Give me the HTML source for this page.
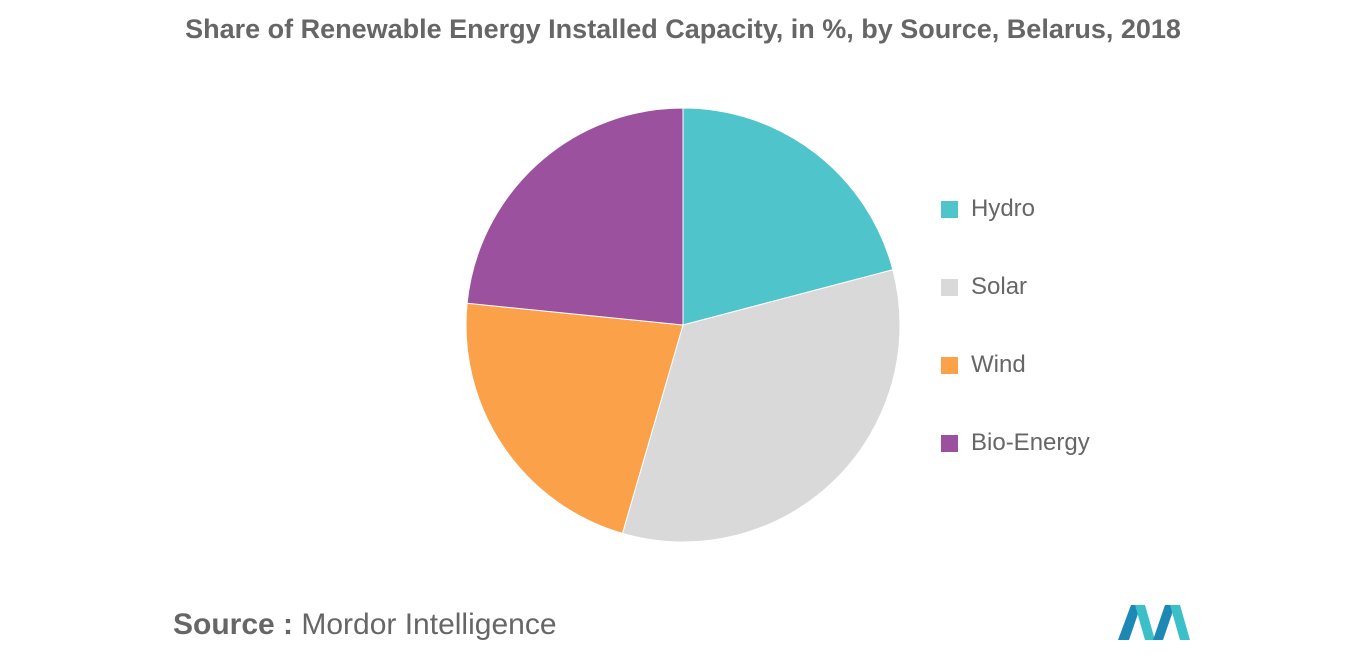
<!DOCTYPE html>
<html><head><meta charset="utf-8">
<style>
body{margin:0;width:1366px;height:655px;background:#fff;font-family:"Liberation Sans",sans-serif;overflow:hidden}
#title{position:absolute;left:0;width:1366px;top:14px;text-align:center;font-size:27px;font-weight:bold;color:#666}
.leg{position:absolute;left:941px;font-size:24px;color:#666;display:flex;align-items:center}
.leg span.sw{width:17px;height:17px;margin-right:13px;display:inline-block}
#source{position:absolute;left:173px;top:608px;font-size:30px;color:#666}
</style></head><body>
<div id="title">Share of Renewable Energy Installed Capacity, in %, by Source, Belarus, 2018</div>
<svg id="pie" width="1366" height="655" style="position:absolute;left:0;top:0"></svg>
<div id="legend"></div>
<div id="source"><b>Source :</b> Mordor Intelligence</div>
<svg width="80" height="50" style="position:absolute;left:1115px;top:600px">
<polygon points="3,40 16,5 26,5 14,40" fill="#1e88b4"/>
<polygon points="20,5 30,5 40,40 30,40" fill="#3bbfc9"/>
<polygon points="38,40 50,5 60,5 48,40" fill="#1e88b4"/>
<polygon points="55,5 65,5 75,40 65,40" fill="#3bbfc9"/>
</svg>
<script>
const categories=["Hydro","Solar","Wind","Bio-Energy"];
const values=[20.9,33.6,22.1,23.4];
const colors=["#4fc4cb","#d9d9d9","#fba14a","#9b519e"];
const cx=683,cy=325,r=217;
const svg=document.getElementById('pie');
const total=values.reduce((a,b)=>a+b,0);
let a0=0;
function pt(a){return [cx+r*Math.sin(a),cy-r*Math.cos(a)];}
values.forEach((v,i)=>{
  const a1=a0+v/total*2*Math.PI;
  const p0=pt(a0),p1=pt(a1);
  const path=document.createElementNS('http://www.w3.org/2000/svg','path');
  path.setAttribute('d',`M${cx},${cy}L${p0[0]},${p0[1]}A${r},${r} 0 ${a1-a0>Math.PI?1:0} 1 ${p1[0]},${p1[1]}Z`);
  path.setAttribute('fill',colors[i]);
  path.setAttribute('stroke','#fff');path.setAttribute('stroke-width','1');
  
  
  svg.appendChild(path);
  a0=a1;
});
const leg=document.getElementById('legend');
categories.forEach((c,i)=>{
  const d=document.createElement('div');
  d.className='leg';d.style.top=(195+i*78)+'px';
  
  
  d.innerHTML=`<span class="sw" style="background:${colors[i]}"></span>${c}`;
  leg.appendChild(d);
});
</script>
</body></html>
